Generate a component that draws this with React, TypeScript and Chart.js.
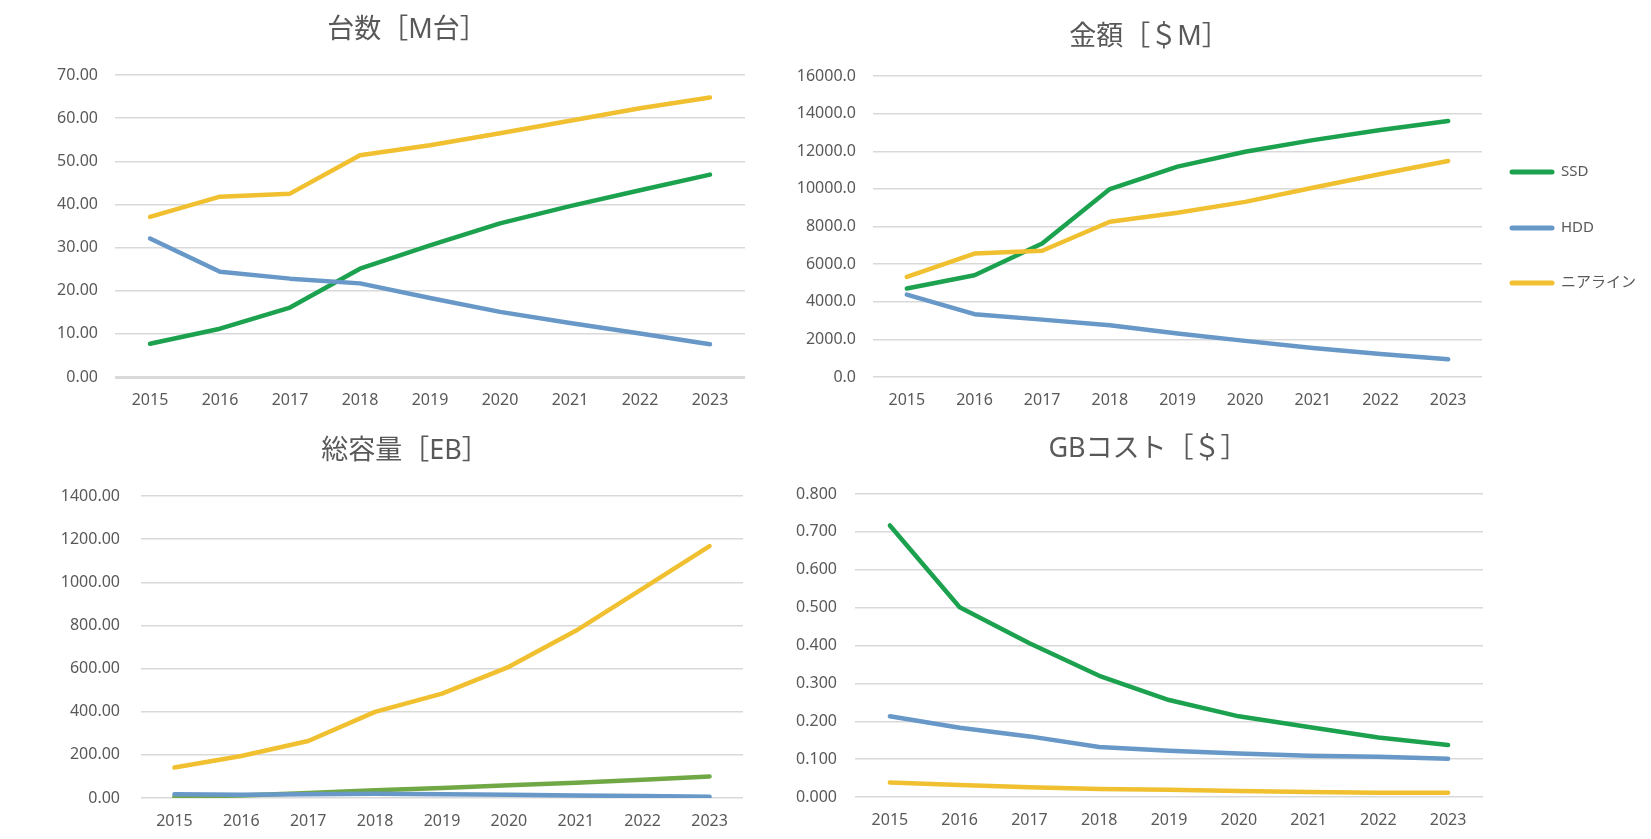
import React, { useEffect, useRef } from 'react';
import { Chart, registerables } from 'chart.js';

Chart.register(...registerables);

// categories
const years = ['2015', '2016', '2017', '2018', '2019', '2020', '2021', '2022', '2023'];
const seriesNames = ['SSD', 'HDD', 'ニアライン'];

// 台数 [M台]
const unitsSSD = [7.7, 11.2, 16.1, 25.1, 30.5, 35.6, 39.6, 43.3, 46.9];
const unitsHDD = [32.1, 24.4, 22.8, 21.7, 18.3, 15.1, 12.5, 10.1, 7.6];
const unitsNearline = [37.1, 41.8, 42.5, 51.4, 53.7, 56.5, 59.4, 62.3, 64.8];

// 金額 [$M]
const revenueSSD = [4700, 5410, 7100, 9990, 11180, 11970, 12590, 13130, 13610];
const revenueHDD = [4380, 3340, 3050, 2750, 2310, 1920, 1540, 1220, 940];
const revenueNearline = [5320, 6560, 6710, 8250, 8730, 9310, 10060, 10790, 11480];

// 総容量 [EB]
const capacitySSD = [5, 12, 23, 36, 46, 59, 71, 85, 100];
const capacityHDD = [17, 15, 17, 20, 17, 15, 12, 9, 6];
const capacityNearline = [141, 195, 264, 399, 484, 608, 775, 971, 1168];

// GBコスト [$]
const costSSD = [0.717, 0.501, 0.406, 0.32, 0.256, 0.213, 0.185, 0.157, 0.137];
const costHDD = [0.213, 0.183, 0.16, 0.132, 0.122, 0.115, 0.109, 0.106, 0.101];
const costNearline = [0.038, 0.032, 0.026, 0.021, 0.019, 0.016, 0.013, 0.011, 0.011];

const TEXT = '#595959';
const GRID = '#d9d9d9';
const FONT = '"Noto Sans", "Noto Sans CJK JP", sans-serif';
const GREEN = '#1ca24f';
const OLIVE = '#70a846';
const BLUE = '#6798c8';
const YELLOW = '#f0c030';

interface PanelProps {
  title: string;
  left: number;
  top: number;
  width: number;
  height: number;
  series: number[][];
  colors: string[];
  yMax: number;
  yStep: number;
  decimals: number;
  area: { l: number; r: number; t: number; b: number };
  titlePos: [number, number];
  tickGap: number;
  zeroWidth?: number;
  legend?: { x: number; ys: number[] };
}

const Panel: React.FC<PanelProps> = (p) => {
  const canvasRef = useRef<HTMLCanvasElement>(null);
  const chartRef = useRef<Chart | null>(null);

  useEffect(() => {
    if (!canvasRef.current) return;
    if (chartRef.current) chartRef.current.destroy();

    // title + legend drawn on top of the chart
    const decor = {
      id: 'decor',
      afterDraw(chart: Chart) {
        const ctx = chart.ctx;
        ctx.save();
        ctx.fillStyle = TEXT;
        ctx.font = `27px ${FONT}`;
        ctx.textAlign = 'center';
        ctx.textBaseline = 'middle';
        ctx.fillText(p.title, p.titlePos[0], p.titlePos[1]);
        if (p.legend) {
          const lg = p.legend;
          ctx.font = `15px ${FONT}`;
          ctx.textAlign = 'left';
          chart.data.datasets.forEach((ds, i) => {
            const y = lg.ys[i];
            ctx.strokeStyle = ds.borderColor as string;
            ctx.lineWidth = 5;
            ctx.lineCap = 'round';
            ctx.beginPath();
            ctx.moveTo(lg.x, y);
            ctx.lineTo(lg.x + 40, y);
            ctx.stroke();
            ctx.fillText(String(ds.label), lg.x + 49, y);
          });
        }
        ctx.restore();
      },
    };

    chartRef.current = new Chart(canvasRef.current, {
      type: 'line',
      data: {
        labels: years,
        datasets: p.series.map((data, i) => ({
          label: seriesNames[i],
          data,
          borderColor: p.colors[i],
          backgroundColor: p.colors[i],
          borderWidth: 4.5,
          pointRadius: 0,
          borderCapStyle: 'round' as const,
          borderJoinStyle: 'round' as const,
          tension: 0,
          order: 3 - i,
        })),
      },
      options: {
        responsive: false,
        animation: false,
        layout: {
          padding: { left: 0, top: p.area.t, right: p.width - p.area.r, bottom: 0 },
        },
        plugins: {
          legend: { display: false },
          tooltip: { enabled: false },
          title: { display: false },
        },
        scales: {
          x: {
            offset: true,
            grid: { display: false },
            border: { display: false },
            ticks: {
              color: TEXT,
              font: { family: FONT, size: 16 },
              padding: 6,
              maxRotation: 0,
              autoSkip: false,
            },
            afterFit: (s: any) => {
              s.height = p.height - p.area.b;
            },
          },
          y: {
            min: 0,
            max: p.yMax,
            border: { display: false },
            grid: {
              color: GRID,
              drawTicks: false,
              lineWidth: (c: any) => (c.tick && c.tick.value === 0 && p.zeroWidth ? p.zeroWidth : 1.5),
            },
            ticks: {
              stepSize: p.yStep,
              color: TEXT,
              font: { family: FONT, size: 16 },
              padding: p.tickGap,
              callback: (v: any) => Number(v).toFixed(p.decimals),
            },
            afterFit: (s: any) => {
              s.width = p.area.l;
            },
          },
        },
      },
      plugins: [decor],
    });

    return () => {
      if (chartRef.current) {
        chartRef.current.destroy();
        chartRef.current = null;
      }
    };
  }, []);

  return (
    <canvas
      ref={canvasRef}
      width={p.width}
      height={p.height}
      style={{ position: 'absolute', left: p.left, top: p.top, width: p.width, height: p.height }}
    />
  );
};

export default function App() {
  return (
    <div style={{ position: 'absolute', left: 0, top: 0, width: 1651, height: 839, background: '#fff', overflow: 'hidden' }}>
      <Panel
        title="台数［M台］"
        left={0}
        top={0}
        width={760}
        height={420}
        series={[unitsSSD, unitsHDD, unitsNearline]}
        colors={[GREEN, BLUE, YELLOW]}
        yMax={70}
        yStep={10}
        decimals={2}
        area={{ l: 115, r: 745, t: 75, b: 377 }}
        titlePos={[407, 30]}
        tickGap={17}
        zeroWidth={3}
      />
      <Panel
        title="金額［＄M］"
        left={760}
        top={0}
        width={891}
        height={420}
        series={[revenueSSD, revenueHDD, revenueNearline]}
        colors={[GREEN, BLUE, YELLOW]}
        yMax={16000}
        yStep={2000}
        decimals={1}
        area={{ l: 113, r: 722, t: 76, b: 377 }}
        titlePos={[389, 37]}
        tickGap={17}
        legend={{ x: 752, ys: [172, 228, 283] }}
      />
      <Panel
        title="総容量［EB］"
        left={0}
        top={420}
        width={760}
        height={419}
        series={[capacitySSD, capacityHDD, capacityNearline]}
        colors={[OLIVE, BLUE, YELLOW]}
        yMax={1400}
        yStep={200}
        decimals={2}
        area={{ l: 141, r: 743, t: 76, b: 378 }}
        titlePos={[405, 31]}
        tickGap={21}
      />
      <Panel
        title="GBコスト［＄］"
        left={760}
        top={420}
        width={891}
        height={419}
        series={[costSSD, costHDD, costNearline]}
        colors={[GREEN, BLUE, YELLOW]}
        yMax={0.8}
        yStep={0.1}
        decimals={3}
        area={{ l: 95, r: 723, t: 74, b: 377 }}
        titlePos={[388, 29]}
        tickGap={18}
      />
    </div>
  );
}
